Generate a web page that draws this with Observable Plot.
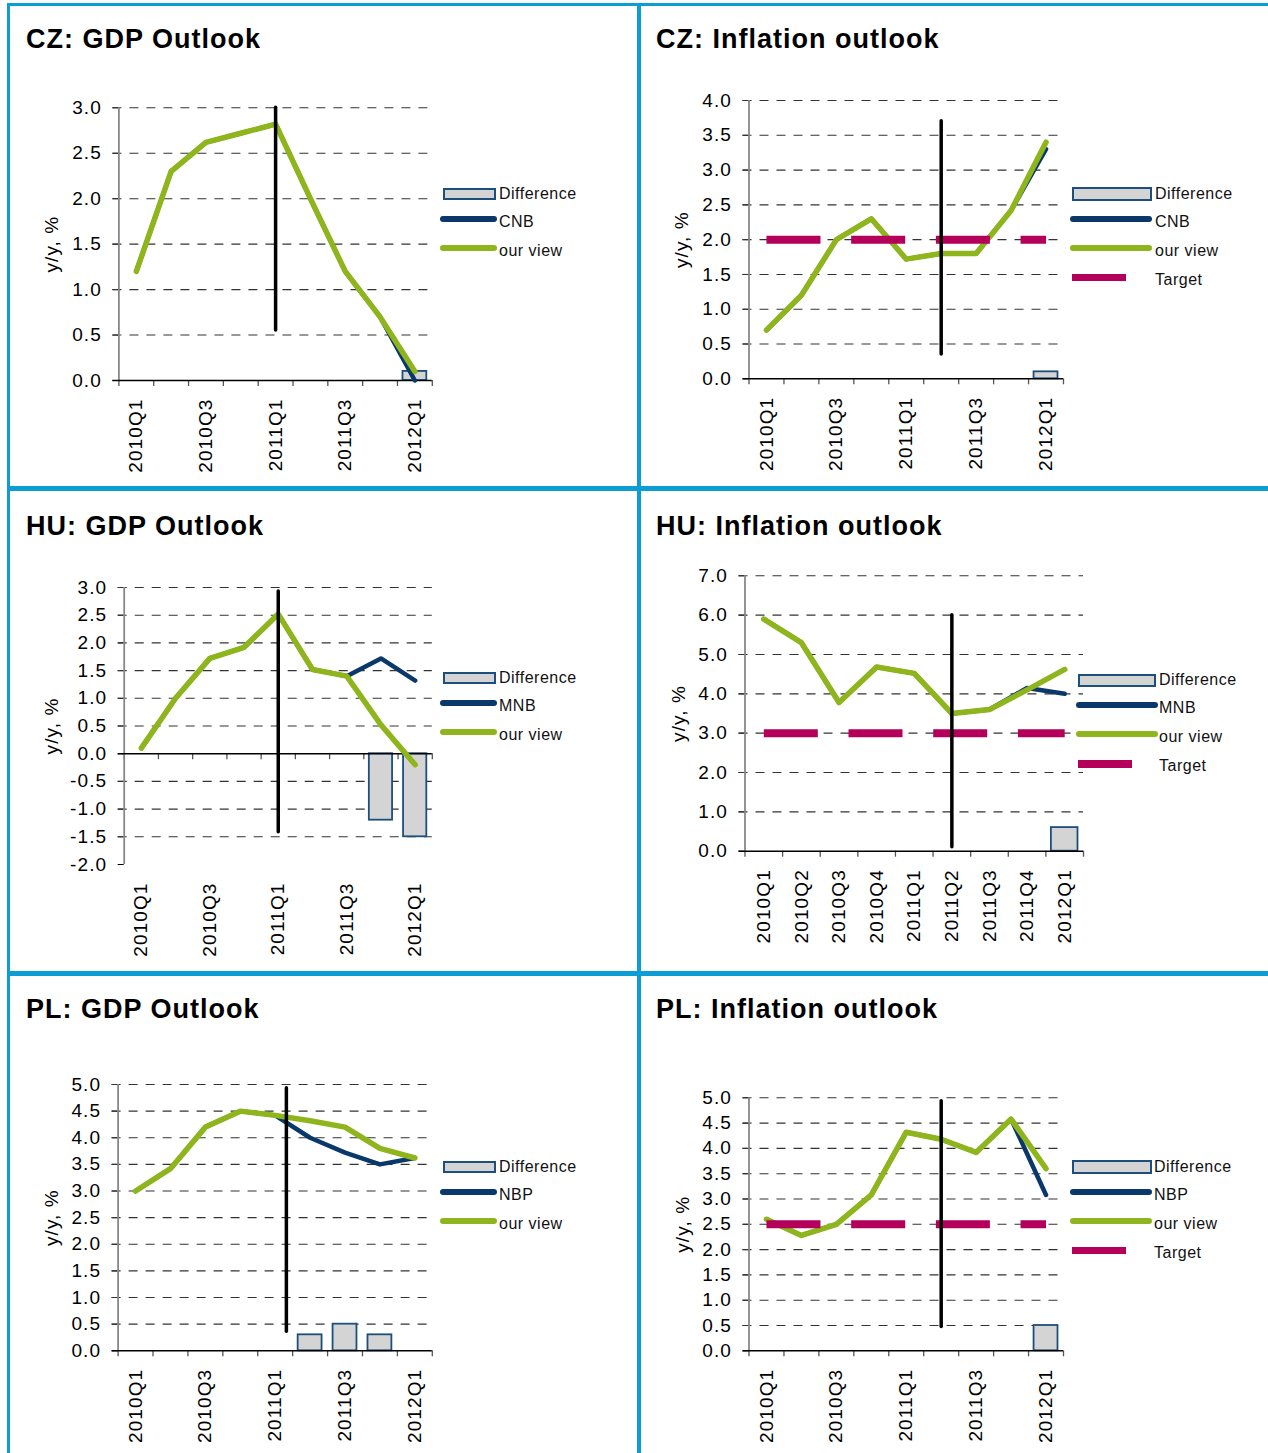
<!DOCTYPE html>
<html>
<head>
<meta charset="utf-8">
<script src="https://cdn.jsdelivr.net/npm/d3@7"></script>
<script src="https://cdn.jsdelivr.net/npm/@observablehq/plot@0.6"></script>
<style>
  body { margin: 0; background: #fff; }
  #page { position: relative; width: 1268px; height: 1453px; overflow: hidden; font-family: "Liberation Sans", Arial, sans-serif; background: #fff; }
  .border { position: absolute; background: #0b9dd4; }
  .title { position: absolute; font-weight: bold; font-size: 27px; line-height: 27px; letter-spacing: 1px; color: #000; white-space: nowrap; }
  .chart { position: absolute; }
  .lg-text { position: absolute; font-size: 16px; line-height: 16px; letter-spacing: 0.5px; color: #111; white-space: nowrap; }
  .sw { position: absolute; box-sizing: border-box; }
</style>
</head>
<body>
<div id="page"></div>
<script>
// ---------- data ----------
const quarters = ["2010Q1","2010Q2","2010Q3","2010Q4","2011Q1","2011Q2","2011Q3","2011Q4","2012Q1"];
const sparseLabelIdx = [0, 2, 4, 6, 8];
const allLabelIdx = [0, 1, 2, 3, 4, 5, 6, 7, 8];

const ticksGdp3 = [0, 0.5, 1, 1.5, 2, 2.5, 3];
const ticksInf4 = [0, 0.5, 1, 1.5, 2, 2.5, 3, 3.5, 4];
const ticksHuGdp = [-2, -1.5, -1, -0.5, 0, 0.5, 1, 1.5, 2, 2.5, 3];
const ticksHuInf = [0, 1, 2, 3, 4, 5, 6, 7];
const ticks5 = [0, 0.5, 1, 1.5, 2, 2.5, 3, 3.5, 4, 4.5, 5];

// CZ GDP
const czGdpOurView = [1.2, 2.3, 2.62, 2.72, 2.82, 2.0, 1.2, 0.7, 0.1];
const czGdpCnb     = [1.2, 2.3, 2.62, 2.72, 2.82, 2.0, 1.2, 0.7, 0.0];
const czGdpDiff    = [null, null, null, null, null, null, null, null, 0.1];
const czGdpVline   = {at: 4, from: 0.55, to: 3.0};

// CZ inflation
const czInfOurView = [0.7, 1.2, 2.0, 2.3, 1.72, 1.8, 1.8, 2.42, 3.4];
const czInfCnb     = [0.7, 1.2, 2.0, 2.3, 1.72, 1.8, 1.8, 2.42, 3.3];
const czInfDiff    = [null, null, null, null, null, null, null, null, 0.1];
const czInfTarget  = [2, 2, 2, 2, 2, 2, 2, 2, 2];
const czInfVline   = {at: 5, from: 0.35, to: 3.7};

// HU GDP
const huGdpOurView = [0.1, 1.0, 1.72, 1.92, 2.52, 1.52, 1.4, 0.52, -0.2];
const huGdpMnb     = [0.1, 1.0, 1.72, 1.92, 2.52, 1.52, 1.4, 1.72, 1.32];
const huGdpDiff    = [null, null, null, null, null, null, null, -1.2, -1.5];
const huGdpVline   = {at: 4, from: -1.42, to: 2.93};

// HU inflation
const huInfOurView = [5.9, 5.3, 3.78, 4.68, 4.52, 3.5, 3.6, 4.1, 4.62];
const huInfMnb     = [5.9, 5.3, 3.78, 4.68, 4.52, 3.5, 3.6, 4.15, 4.0];
const huInfDiff    = [null, null, null, null, null, null, null, null, 0.6];
const huInfTarget  = [3, 3, 3, 3, 3, 3, 3, 3, 3];
const huInfVline   = {at: 5, from: 0.1, to: 6.0};

// PL GDP
const plGdpOurView = [3.0, 3.42, 4.2, 4.5, 4.42, 4.32, 4.2, 3.8, 3.62];
const plGdpNbp     = [3.0, 3.42, 4.2, 4.5, 4.42, 4.0, 3.72, 3.5, 3.62];
const plGdpDiff    = [null, null, null, null, null, 0.3, 0.5, 0.3, null];
const plGdpVline   = {at: 4.32, from: 0.36, to: 4.93};

// PL inflation
const plInfOurView = [2.6, 2.28, 2.5, 3.08, 4.32, 4.18, 3.92, 4.58, 3.6];
const plInfNbp     = [2.6, 2.28, 2.5, 3.08, 4.32, 4.18, 3.92, 4.58, 3.08];
const plInfDiff    = [null, null, null, null, null, null, null, null, 0.5];
const plInfTarget  = [2.5, 2.5, 2.5, 2.5, 2.5, 2.5, 2.5, 2.5, 2.5];
const plInfVline   = {at: 5, from: 0.47, to: 4.93};

// ---------- styling ----------
const GREEN = "#8fb51d";
const NAVY = "#0a386a";
const MAGENTA = "#b5005b";
const BAR_FILL = "#d4d4d4";
const BAR_STROKE = "#1d4f7c";
const FONT = '"Liberation Sans", Arial, sans-serif';

const gdpLegend = {bar: [443, 53, 12.5], line: [440, 57], target: null};
const infLegendB = {bar: [1072, 80, 14], line: [1069.5, 82.5], target: [1072, 54, 6.5]};
const infLegendD = {bar: [1078, 78, 13], line: [1076, 82], target: [1078, 54, 8]};

const panels = [
  {title: "CZ: GDP Outlook", tx: 26, tb: 49.3, left: 10, top: 6, w: 627, h: 481,
   frame: [118.4, 431.8, 107.3, 380], yDomain: [0, 3], yTicks: ticksGdp3, labels: sparseLabelIdx,
   ours: czGdpOurView, bank: czGdpCnb, bankName: "CNB", diff: czGdpDiff, target: null, vline: czGdpVline,
   ylOff: 67.4, lg: gdpLegend, lgText: 499, lgBase: 199},
  {title: "CZ: Inflation outlook", tx: 656, tb: 49.3, left: 641, top: 6, w: 624, h: 481,
   frame: [748.5, 1063, 100, 378.3], yDomain: [0, 4], yTicks: ticksInf4, labels: sparseLabelIdx,
   ours: czInfOurView, bank: czInfCnb, bankName: "CNB", diff: czInfDiff, target: czInfTarget, vline: czInfVline,
   ylOff: 67.5, lg: infLegendB, lgText: 1155, lgBase: 199},
  {title: "HU: GDP Outlook", tx: 26, tb: 535.7, left: 10, top: 491, w: 627, h: 480,
   frame: [123.7, 431.8, 587, 864], yDomain: [-2, 3], yTicks: ticksHuGdp, labels: sparseLabelIdx,
   ours: huGdpOurView, bank: huGdpMnb, bankName: "MNB", diff: huGdpDiff, target: null, vline: huGdpVline,
   ylOff: 72, lg: gdpLegend, lgText: 499, lgBase: 683},
  {title: "HU: Inflation outlook", tx: 656, tb: 535.7, left: 641, top: 491, w: 624, h: 480,
   frame: [744.5, 1083, 575.3, 850.7], yDomain: [0, 7], yTicks: ticksHuInf, labels: allLabelIdx,
   ours: huInfOurView, bank: huInfMnb, bankName: "MNB", diff: huInfDiff, target: huInfTarget, vline: huInfVline,
   ylOff: 66.5, lg: infLegendD, lgText: 1159, lgBase: 685},
  {title: "PL: GDP Outlook", tx: 26, tb: 1019.3, left: 10, top: 976, w: 627, h: 477,
   frame: [117.6, 431.8, 1084, 1350.3], yDomain: [0, 5], yTicks: ticks5, labels: sparseLabelIdx,
   ours: plGdpOurView, bank: plGdpNbp, bankName: "NBP", diff: plGdpDiff, target: null, vline: plGdpVline,
   ylOff: 66.6, lg: gdpLegend, lgText: 499, lgBase: 1172},
  {title: "PL: Inflation outlook", tx: 656, tb: 1019.3, left: 641, top: 976, w: 624, h: 477,
   frame: [748.5, 1063, 1097.3, 1350.3], yDomain: [0, 5], yTicks: ticks5, labels: sparseLabelIdx,
   ours: plInfOurView, bank: plInfNbp, bankName: "NBP", diff: plInfDiff, target: plInfTarget, vline: plInfVline,
   ylOff: 66.5, lg: infLegendB, lgText: 1154, lgBase: 1172}
];

const page = document.getElementById("page");

// ---------- panel borders ----------
[[7, 3, 1261, 3], [7, 3, 3, 1450], [637, 3, 4, 1450], [7, 486, 1261, 5], [7, 971, 1261, 5]].forEach(([x, y, w, h]) => {
  const d = document.createElement("div");
  d.className = "border";
  Object.assign(d.style, {left: x + "px", top: y + "px", width: w + "px", height: h + "px"});
  page.appendChild(d);
});

function addDiv(cls, x, y, w, h, styles, text) {
  const d = document.createElement("div");
  d.className = cls;
  d.style.left = x + "px";
  d.style.top = y + "px";
  if (w != null) d.style.width = w + "px";
  if (h != null) d.style.height = h + "px";
  Object.assign(d.style, styles || {});
  if (text != null) d.textContent = text;
  page.appendChild(d);
  return d;
}

const boundaries = d3.range(quarters.length + 1);

panels.forEach(p => {
  // title
  addDiv("title", p.tx, p.tb - 22.9, null, null, {}, p.title);

  const data = quarters.map((q, i) => ({
    q, i, pos: i + 0.5,
    ours: p.ours[i], bank: p.bank[i], diff: p.diff[i],
    target: p.target ? p.target[i] : null
  }));
  const [fx0, fx1, fyTop, fyBot] = p.frame;
  const ml = fx0 - p.left, mr = p.left + p.w - fx1, mt = fyTop - p.top, mb = p.top + p.h - fyBot;
  const yMin = p.yDomain[0];

  const marks = [
    Plot.ruleY(p.yTicks.filter(t => t !== 0 && t !== yMin), {stroke: "#333", strokeWidth: 1.1, strokeDasharray: "9,8", insetLeft: -6}),
    Plot.rect(data.filter(d => d.diff != null), {x1: d => d.i, x2: d => d.i + 1, y1: () => 0, y2: "diff",
      fill: BAR_FILL, stroke: BAR_STROKE, strokeWidth: 1.8, insetLeft: 5.5, insetRight: 5.5}),
    Plot.ruleX(boundaries, {x: d => d, y1: () => 0, y2: () => 0, insetBottom: -6, stroke: "#555", strokeWidth: 1.3}),
    Plot.ruleX([0], {stroke: "#888", strokeWidth: 1.8}),
    Plot.ruleY([0], {stroke: "#000", strokeWidth: 1.5, insetLeft: -6}),
    Plot.line(data, {x: "pos", y: "bank", stroke: NAVY, strokeWidth: 4.5, strokeLinejoin: "round", strokeLinecap: "round"}),
    Plot.line(data, {x: "pos", y: "ours", stroke: GREEN, strokeWidth: 5.5, strokeLinejoin: "round", strokeLinecap: "round"})
  ];
  if (p.target) {
    marks.push(Plot.line(data, {x: "pos", y: "target", stroke: MAGENTA, strokeWidth: 8, strokeDasharray: "54,30.7", strokeLinecap: "butt"}));
  }
  marks.push(Plot.ruleX([p.vline], {x: d => d.at + 0.5, y1: "from", y2: "to", stroke: "#000", strokeWidth: 3.5, strokeLinecap: "round"}));
  marks.push(Plot.text(["y/y, %"], {text: d => d, frameAnchor: "left", textAnchor: "middle", lineAnchor: "middle", rotate: -90, dx: -p.ylOff, fontSize: 19}));

  const svg = Plot.plot({
    width: p.w, height: p.h,
    marginLeft: ml, marginRight: mr, marginTop: mt, marginBottom: mb,
    style: {fontFamily: FONT, fontSize: "19px", color: "#000", background: "transparent", overflow: "visible", letterSpacing: "1.1px"},
    x: {type: "linear", domain: [0, quarters.length], ticks: p.labels.map(i => i + 0.5),
        tickFormat: d => quarters[Math.floor(d)], tickRotate: -90, tickSize: 0, tickPadding: 18, label: null},
    y: {domain: p.yDomain, ticks: p.yTicks, tickFormat: d => d.toFixed(1), tickSize: 6, tickPadding: 11, label: null},
    marks
  });
  const wrap = addDiv("chart", p.left, p.top, p.w, p.h);
  wrap.appendChild(svg);

  // legend
  const rows = [
    {kind: "bar", label: "Difference"},
    {kind: "line", color: NAVY, label: p.bankName},
    {kind: "line", color: GREEN, label: "our view"}
  ];
  if (p.target) rows.push({kind: "target", label: "Target"});
  rows.forEach((r, k) => {
    const base = p.lgBase + k * 28.7;
    addDiv("lg-text", p.lgText, base - 13.5, null, null, {}, r.label);
    if (r.kind === "bar") {
      const [x, w, h] = p.lg.bar;
      addDiv("sw", x, base - 5 - h / 2, w, h, {background: BAR_FILL, border: "2px solid " + BAR_STROKE});
    } else if (r.kind === "line") {
      const [x, w] = p.lg.line;
      addDiv("sw", x, base - 8.5 - 3.25, w, 6.5, {background: r.color, borderRadius: "3.25px"});
    } else {
      const [x, w, h] = p.lg.target;
      addDiv("sw", x, base - 7.5 - h / 2, w, h, {background: MAGENTA});
    }
  });
});
</script>
</body>
</html>
